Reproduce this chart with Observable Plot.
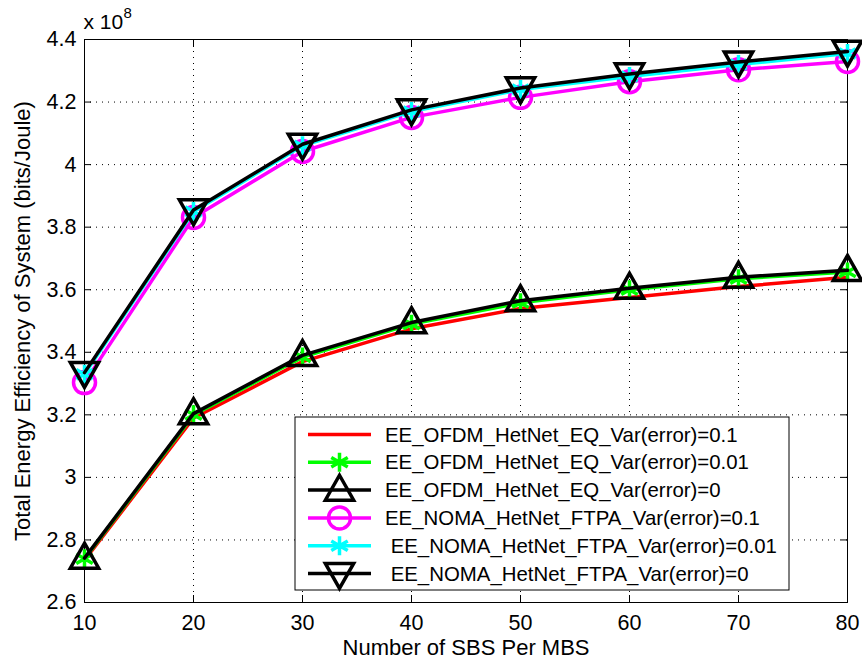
<!DOCTYPE html>
<html>
<head>
<meta charset="utf-8">
<script src="https://cdn.jsdelivr.net/npm/d3@7"></script>
<script src="https://cdn.jsdelivr.net/npm/@observablehq/plot@0.6"></script>
<style>
html, body { margin: 0; padding: 0; background: #fff; }
svg { font-family: "Liberation Sans", Arial, sans-serif; }
</style>
</head>
<body>
<div id="chart"></div>
<script>
// ---- data (values in units of 1e8 bits/Joule) ----
const sbsPerMbs = [10, 20, 30, 40, 50, 60, 70, 80];
const ofdmVar01  = [2.735, 3.190, 3.370, 3.475, 3.540, 3.575, 3.610, 3.640];
const ofdmVar001 = [2.740, 3.200, 3.385, 3.490, 3.558, 3.600, 3.635, 3.657];
const ofdmVar0   = [2.742, 3.204, 3.390, 3.495, 3.565, 3.605, 3.640, 3.662];
const nomaVar01  = [3.303, 3.831, 4.042, 4.151, 4.215, 4.265, 4.303, 4.330];
const nomaVar001 = [3.330, 3.850, 4.060, 4.170, 4.240, 4.282, 4.320, 4.355];
const nomaVar0   = [3.335, 3.855, 4.065, 4.175, 4.245, 4.290, 4.328, 4.362];
const seriesNames = [
  "EE_OFDM_HetNet_EQ_Var(error)=0.1",
  "EE_OFDM_HetNet_EQ_Var(error)=0.01",
  "EE_OFDM_HetNet_EQ_Var(error)=0",
  "EE_NOMA_HetNet_FTPA_Var(error)=0.1",
  " EE_NOMA_HetNet_FTPA_Var(error)=0.01",
  " EE_NOMA_HetNet_FTPA_Var(error)=0"
];
const yTicks = [2.6, 2.8, 3, 3.2, 3.4, 3.6, 3.8, 4, 4.2, 4.4];
const xTicks = [10, 20, 30, 40, 50, 60, 70, 80];
const xLabel = "Number of SBS Per MBS";
const yLabel = "Total Energy Efficiency of System (bits/Joule)";
const exponentBase = "x 10";
const exponentPower = "8";

// ---- styling ----
const seriesValues = [ofdmVar01, ofdmVar001, ofdmVar0, nomaVar01, nomaVar001, nomaVar0];
const colors = ["#ff0000", "#00ff00", "#000000", "#ff00ff", "#00ffff", "#000000"];

const triUp = {
  draw(ctx, size) {
    const r = Math.sqrt(size / Math.PI);
    ctx.moveTo(0, -r * 1.1);
    ctx.lineTo(r * 1.05, r * 0.75);
    ctx.lineTo(-r * 1.05, r * 0.75);
    ctx.closePath();
  }
};
const triDown = {
  draw(ctx, size) {
    const r = Math.sqrt(size / Math.PI);
    ctx.moveTo(0, r * 1.1);
    ctx.lineTo(r * 1.05, -r * 0.75);
    ctx.lineTo(-r * 1.05, -r * 0.75);
    ctx.closePath();
  }
};
const markers = [
  null,
  {symbol: "asterisk", r: 9},
  {symbol: triUp, r: 13.5},
  {symbol: "circle", r: 11},
  {symbol: "asterisk", r: 9},
  {symbol: triDown, r: 13.5}
];

const rows = seriesValues.map((vals, s) => sbsPerMbs.map((x, i) => ({x, y: vals[i], s})));

const W = 862, H = 659;
const mL = 84, mR = 15, mT = 39, mB = 57;
const lw = 3.5;
const tickFont = 21.5;
const labelFont = 22;
const legendFont = 20.4;

const marks = [
  Plot.gridX(xTicks, {stroke: "#000", strokeOpacity: 1, strokeDasharray: "1,5"}),
  Plot.gridY(yTicks, {stroke: "#000", strokeOpacity: 1, strokeDasharray: "1,5"}),
  Plot.frame({stroke: "#000", strokeWidth: 1}),
  // tick labels
  Plot.axisX({ticks: xTicks, tickSize: 0, tickPadding: 12, label: null, fontSize: tickFont, tickFormat: d => String(d)}),
  Plot.axisY({ticks: yTicks, tickSize: 0, tickPadding: 8, label: null, fontSize: tickFont, tickFormat: d => String(+d.toFixed(1))}),
  // inward ticks on all four sides
  Plot.axisX({ticks: xTicks, anchor: "bottom", tickSize: -7, tickFormat: () => "", label: null}),
  Plot.axisX({ticks: xTicks, anchor: "top", tickSize: -7, tickFormat: () => "", label: null}),
  Plot.axisY({ticks: yTicks, anchor: "left", tickSize: -7, tickFormat: () => "", label: null}),
  Plot.axisY({ticks: yTicks, anchor: "right", tickSize: -7, tickFormat: () => "", label: null})
];

rows.forEach((data, s) => {
  marks.push(Plot.line(data, {x: "x", y: "y", stroke: colors[s], strokeWidth: lw, strokeLinejoin: "round"}));
  const m = markers[s];
  if (m) {
    marks.push(Plot.dot(data, {x: "x", y: "y", symbol: m.symbol, r: m.r, stroke: colors[s], strokeWidth: lw, fill: "none"}));
  }
});

// axis titles and exponent
marks.push(
  Plot.text([xLabel], {frameAnchor: "bottom", lineAnchor: "middle", textAnchor: "middle", dy: 45, text: d => d, fontSize: labelFont, fill: "#000"}),
  Plot.text([yLabel], {frameAnchor: "left", lineAnchor: "middle", textAnchor: "middle", dx: -62, rotate: -90, text: d => d, fontSize: labelFont, fill: "#000"}),
  Plot.text([exponentBase], {frameAnchor: "top-left", lineAnchor: "middle", textAnchor: "start", dy: -17.5, dx: -1, text: d => d, fontSize: 21, fill: "#000"}),
  Plot.text([exponentPower], {frameAnchor: "top-left", lineAnchor: "middle", textAnchor: "start", dy: -26.5, dx: 39, text: d => d, fontSize: 15, fill: "#000"})
);

const chart = Plot.plot({
  width: W,
  height: H,
  marginLeft: mL,
  marginRight: mR,
  marginTop: mT,
  marginBottom: mB,
  style: {fontFamily: '"Liberation Sans", Arial, sans-serif', fontSize: tickFont + "px", background: "#fff", color: "#000"},
  x: {domain: [10, 80], type: "linear"},
  y: {domain: [2.6, 4.4], type: "linear"},
  marks
});

// legend inside the plot frame (lower right)
const svg = d3.select(chart);
const g = svg.append("g").attr("class", "legend").attr("text-anchor", "start");
const box = {x: 295, y: 417, w: 494, h: 173};
g.append("rect").attr("x", box.x).attr("y", box.y).attr("width", box.w).attr("height", box.h)
  .attr("fill", "#fff").attr("stroke", "#000").attr("stroke-width", 1);
const rowH = 27.8, firstY = 434.5;
const symPath = (sym, r) => d3.symbol(sym === "circle" ? d3.symbolCircle : sym === "asterisk" ? d3.symbolAsterisk : sym, Math.PI * r * r)();
seriesNames.forEach((name, i) => {
  const y = firstY + i * rowH;
  g.append("line").attr("x1", 308).attr("x2", 371).attr("y1", y).attr("y2", y)
    .attr("stroke", colors[i]).attr("stroke-width", lw);
  const m = markers[i];
  if (m) {
    g.append("path").attr("d", symPath(m.symbol, m.r)).attr("transform", `translate(339.5,${y})`)
      .attr("fill", "none").attr("stroke", colors[i]).attr("stroke-width", lw);
  }
  g.append("text").attr("x", 385).attr("y", y).attr("dy", "0.35em").attr("text-anchor", "start")
    .style("white-space", "pre").attr("font-size", legendFont).attr("fill", "#000").text(name);
});

document.getElementById("chart").appendChild(chart);
</script>
</body>
</html>
